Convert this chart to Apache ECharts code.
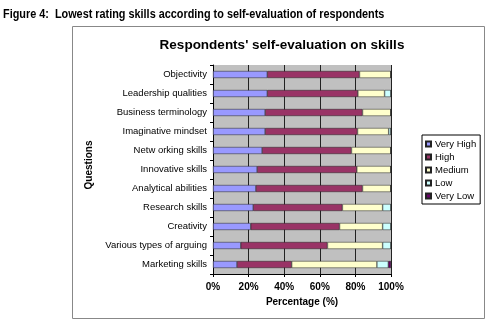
<!DOCTYPE html>
<html><head><meta charset="utf-8">
<script src="https://cdn.jsdelivr.net/npm/echarts@6/dist/echarts.min.js"></script>
<style>html,body{margin:0;padding:0;background:#fff}#c{width:493px;height:327px}</style>
</head><body><div id="c"></div>
<script>
const categories = ["Objectivity","Leadership qualities","Business terminology","Imaginative mindset","Netw orking skills","Innovative skills","Analytical abilities","Research skills","Creativity","Various types of arguing","Marketing skills"];
const veryHigh = [30.5,30.5,29.3,29.3,27.6,24.8,24.1,22.6,21.2,15.6,13.5];
const high     = [51.8,50.9,54.7,51.9,50.2,56.0,59.9,50.1,49.9,48.7,30.7];
const medium   = [17.7,15.0,16.0,17.5,22.2,19.2,16.0,22.6,24.2,31.0,47.9];
const low      = [0,3.6,0,1.3,0,0,0,4.7,4.7,4.7,6.4];
const veryLow  = [0,0,0,0,0,0,0,0,0,0,1.5];
const xTicks = [0,20,40,60,80,100];

const font = "'Liberation Sans', Arial, sans-serif";
const chart = echarts.init(document.getElementById('c'), null, {renderer:'canvas'});
function s(name, data, color){
  return {name, type:'bar', stack:'t', data, barWidth:7,
    itemStyle:{color, borderColor:'#222', borderWidth:0.5}, emphasis:{disabled:true}};
}
chart.setOption({
  animation:false,
  title:[
    {text:"Respondents' self-evaluation on skills", left:277, textAlign:'center', top:33,
     textStyle:{fontFamily:font, fontSize:13.5, fontWeight:'bold', color:'#000'}}
  ],
  graphic:[
    {type:'text', x:3, y:15, scaleX:0.905, style:{text:'Figure 4:  Lowest rating skills according to self-evaluation of respondents', font:'bold 12px '+font, fill:'#000', textVerticalAlign:'middle'}},
    {type:'rect', shape:{x:72.5, y:26.5, width:412, height:292}, style:{fill:'none', stroke:'#888', lineWidth:1}, z:-1},
    {type:'text', x:89, y:165, rotation:Math.PI/2, style:{text:'Questions', font:'bold 10px '+font, fill:'#000', textAlign:'center', textVerticalAlign:'middle'}}
  ],
  legend:{orient:'vertical', left:422, top:135, itemWidth:5, itemHeight:5, itemGap:3, icon:'rect',
    padding:[4,4,3,3], borderColor:'#000', borderWidth:1, backgroundColor:'#fff',
    textStyle:{fontFamily:font, fontSize:9.5, color:'#000', padding:[0,0,0,-1]},
    data:['Very High','High','Medium','Low','Very Low']},
  grid:{left:213, right:102, top:65, bottom:53, show:true, backgroundColor:'#c0c0c0', borderWidth:0},
  xAxis:{type:'value', min:xTicks[0], max:xTicks[xTicks.length-1], interval:20,
    axisLabel:{formatter:'{value}%', fontFamily:font, fontSize:10, fontWeight:'bold', color:'#000', margin:8},
    axisLine:{show:true, lineStyle:{color:'#000'}}, axisTick:{show:true, length:3, lineStyle:{color:'#000'}},
    splitLine:{show:true, lineStyle:{color:'#222', width:1}},
    name:'Percentage (%)', nameLocation:'middle', nameGap:22,
    nameTextStyle:{fontFamily:font, fontSize:10, fontWeight:'bold', color:'#000'}},
  yAxis:{type:'category', data:categories, inverse:true,
    axisLabel:{fontFamily:font, fontSize:9.5, color:'#000', margin:6},
    axisLine:{show:true, lineStyle:{color:'#000'}}, axisTick:{show:true, length:3, lineStyle:{color:'#000'}},
    splitLine:{show:false}},
  series:[
    s('Very High', veryHigh, '#9999ff'),
    s('High', high, '#993366'),
    s('Medium', medium, '#ffffcc'),
    s('Low', low, '#ccffff'),
    s('Very Low', veryLow, '#660066')
  ]
});
</script></body></html>
